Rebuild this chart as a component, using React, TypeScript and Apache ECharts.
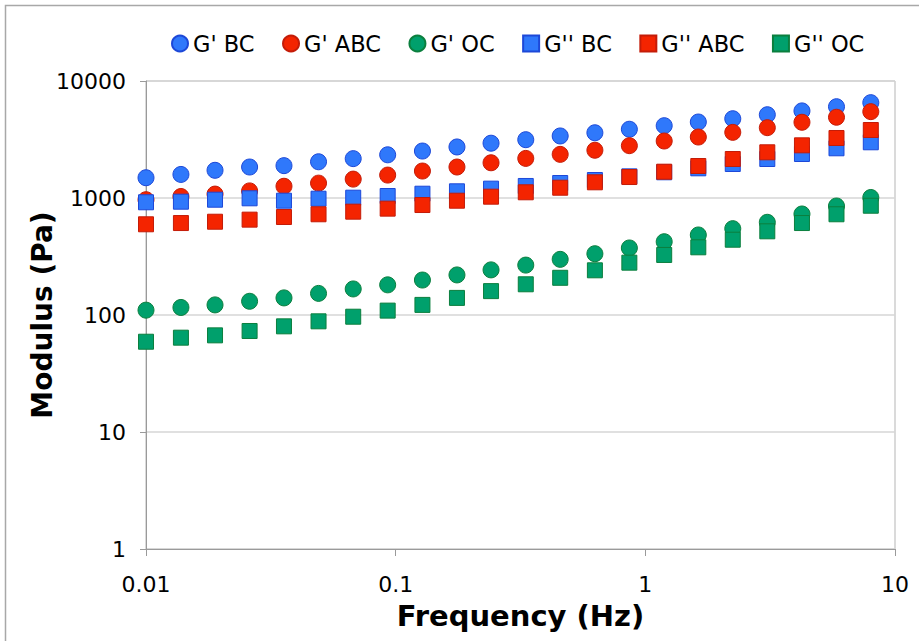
import React, { useEffect, useRef } from "react";
import * as echarts from "echarts";

// Oscillation frequency sweep (Hz)
const frequency = [
  0.01, 0.0138, 0.0189, 0.026, 0.0357, 0.0491, 0.0676, 0.0929, 0.128, 0.176, 0.241,
  0.332, 0.456, 0.628, 0.863, 1.19, 1.63, 2.24, 3.08, 4.24, 5.83, 8.0,
];

// Storage modulus G' (Pa)
const gPrimeBC = [
  1490, 1590, 1725, 1840, 1890, 2040, 2170, 2340, 2520, 2730, 2940, 3150, 3390, 3610,
  3870, 4150, 4460, 4760, 5150, 5550, 6030, 6530,
];
const gPrimeABC = [
  967, 1030, 1080, 1150, 1260, 1340, 1450, 1570, 1700, 1840, 2000, 2180, 2360, 2560,
  2800, 3070, 3320, 3640, 3990, 4440, 4900, 5470,
];
const gPrimeOC = [
  110, 116, 122, 131, 140, 153, 167, 181, 199, 220, 243, 267, 299, 334, 374, 423, 483,
  547, 620, 730, 854, 1010,
];

// Loss modulus G'' (Pa)
const gDoubleBC = [
  919, 930, 967, 994, 948, 986, 1006, 1040, 1088, 1141, 1202, 1267, 1343, 1425, 1531,
  1659, 1794, 1953, 2154, 2377, 2660, 2993,
];
const gDoubleABC = [
  596, 611, 627, 653, 688, 726, 764, 811, 871, 948, 1026, 1119, 1224, 1362, 1511, 1678,
  1877, 2154, 2459, 2820, 3258, 3812,
];
const gDoubleOC = [
  59.1, 64, 67, 73, 80, 88.3, 96.7, 109, 122, 140, 160, 183, 208, 241, 280, 326, 379,
  440, 519, 611, 726, 859,
];

const seriesNames = ["G' BC", "G' ABC", "G' OC", "G'' BC", "G'' ABC", "G'' OC"];
const seriesValues = [gPrimeBC, gPrimeABC, gPrimeOC, gDoubleBC, gDoubleABC, gDoubleOC];

const BLUE = { fill: "#2f78fb", edge: "#1d48d8" };
const RED = { fill: "#f42400", edge: "#c41c08" };
const GREEN = { fill: "#00a06c", edge: "#0b7f3e" };
const palette = [BLUE, RED, GREEN, BLUE, RED, GREEN];

const FONT = "DejaVu Sans, Verdana, sans-serif";

const fmt = (v: number) => String(parseFloat(Number(v).toPrecision(6)));

export default function App() {
  const ref = useRef<HTMLDivElement>(null);

  useEffect(() => {
    if (!ref.current) return;
    const chart = echarts.init(ref.current, undefined, { renderer: "svg" });

    const series = seriesNames.map((name, i) => {
      const isCircle = i < 3;
      return {
        name,
        type: "scatter",
        symbol: isCircle ? "circle" : "rect",
        symbolSize: isCircle ? 16 : 15,
        itemStyle: {
          color: palette[i].fill,
          borderColor: palette[i].edge,
          borderWidth: 1,
          opacity: 1,
        },
        data: frequency.map((f, k) => [f, seriesValues[i][k]]),
        z: 2 + i,
      };
    });

    chart.setOption({
      animation: false,
      backgroundColor: "#ffffff",
      textStyle: { fontFamily: FONT },
      graphic: [
        {
          type: "rect",
          shape: { x: 5.5, y: 5.5, width: 1000, height: 1000 },
          style: { fill: "none", stroke: "#a8a8a8", lineWidth: 1.5 },
          silent: true,
          z: -1,
        },
      ],
      legend: {
        left: 166,
        top: 27,
        itemWidth: 16,
        itemHeight: 16,
        itemGap: 27.5,
        textStyle: { fontFamily: FONT, fontSize: 22.5, color: "#000" },
        data: seriesNames.map((n, i) => ({ name: n, icon: i < 3 ? "circle" : "rect" })),
      },
      grid: {
        left: 146,
        right: 24,
        top: 81,
        bottom: 92,
        show: true,
        borderColor: "#b5b5b5",
        borderWidth: 1,
        containLabel: false,
      },
      xAxis: {
        type: "log",
        logBase: 10,
        min: 0.01,
        max: 10,
        name: "Frequency (Hz)",
        nameLocation: "middle",
        nameGap: 52,
        nameMoveOverlap: false,
        nameTextStyle: { fontFamily: FONT, fontSize: 29, fontWeight: "bold", color: "#000" },
        axisLine: { show: true, lineStyle: { color: "#9a9a9a", width: 1 } },
        axisTick: { show: true, inside: false, length: 7, lineStyle: { color: "#9a9a9a" } },
        axisLabel: {
          margin: 24,
          fontFamily: FONT,
          fontSize: 22,
          color: "#000",
          formatter: (v: number) => fmt(v),
        },
        splitLine: { show: false },
        minorTick: { show: false },
      },
      yAxis: {
        type: "log",
        logBase: 10,
        min: 1,
        max: 10000,
        name: "Modulus (Pa)",
        nameLocation: "middle",
        nameGap: 90,
        nameMoveOverlap: false,
        nameRotate: 90,
        nameTextStyle: { fontFamily: FONT, fontSize: 28, fontWeight: "bold", color: "#000" },
        axisLine: { show: true, lineStyle: { color: "#9a9a9a", width: 1 } },
        axisTick: { show: true, inside: false, length: 6, lineStyle: { color: "#9a9a9a" } },
        axisLabel: {
          margin: 20,
          fontFamily: FONT,
          fontSize: 22,
          color: "#000",
          formatter: (v: number) => fmt(v),
        },
        splitLine: { show: true, lineStyle: { color: "#d6d6d6", width: 1.5 } },
        minorTick: { show: false },
      },
      series,
    });

    return () => chart.dispose();
  }, []);

  return (
    <div
      ref={ref}
      style={{ position: "absolute", left: 0, top: 0, width: 919, height: 641 }}
    />
  );
}
